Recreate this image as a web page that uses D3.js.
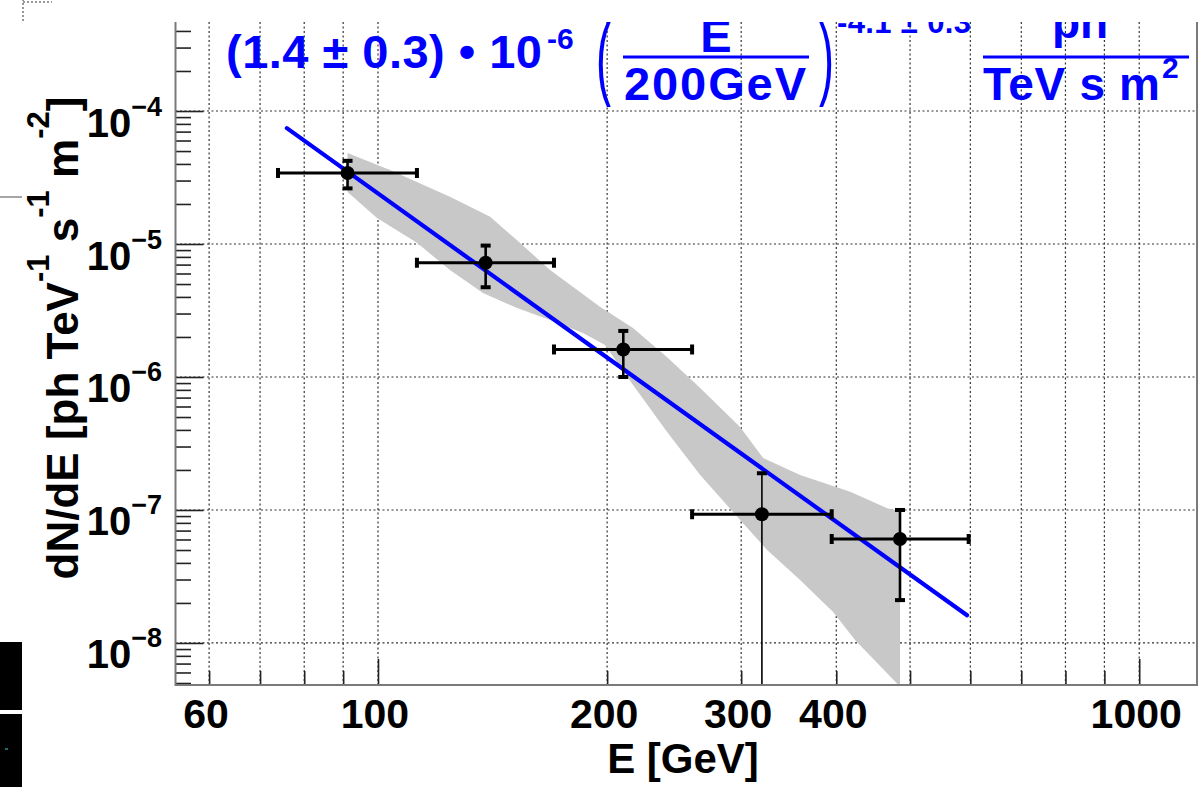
<!DOCTYPE html>
<html>
<head>
<meta charset="utf-8">
<script src="https://cdn.jsdelivr.net/npm/d3@7"></script>
<style>
  html, body { margin: 0; padding: 0; background: #fff; }
  svg { display: block; font-family: "Liberation Sans", Arial, Helvetica, sans-serif; }
</style>
</head>
<body>
<svg id="chart" width="1203" height="787"></svg>
<script>
// ---- measured spectrum (energy bins in GeV, flux in ph TeV^-1 s^-1 m^-2) ----
const energy     = [91.2, 138.5, 210.0, 319.4, 485.0];
const energyLow  = [73.9, 112.5, 170.3, 258.6, 394.5];
const energyHigh = [112.5, 170.3, 258.6, 394.5, 597.0];
const flux       = [3.42e-5, 7.23e-6, 1.61e-6, 9.29e-8, 6.05e-8];
const fluxErr    = [8.0e-6, 2.5e-6, 6.1e-7, 9.6e-8, 3.95e-8];

// ---- power-law fit: N0 * (E / pivot)^-index ----
const fitNorm  = 1.4e-6;
const fitIndex = 4.1;
const fitPivot = 200;
const fitEnergyRange = [75.9, 594.0];

// ---- fit uncertainty band: upper and lower envelopes ----
const bandUpperEnergy = [91.2, 103.7, 124.3, 140.4, 152.2, 168.3, 195.7, 216.3, 239.8, 265.0, 299.0, 320.6, 358.5, 417.2, 466.6, 485.0];
const bandUpperFlux   = [4.83e-5, 3.60e-5, 2.27e-5, 1.60e-5, 1.07e-5, 6.38e-6, 3.38e-6, 2.34e-6, 1.41e-6, 8.26e-7, 4.21e-7, 2.46e-7, 1.83e-7, 1.37e-7, 1.03e-7, 9.8e-8];
const bandLowerEnergy = [91.2, 99.7, 112.5, 124.3, 137.4, 152.3, 168.3, 185.9, 198.7, 216.3, 239.8, 265.0, 292.7, 324.5, 358.5, 396.2, 423.6, 485.0];
const bandLowerFlux   = [2.46e-5, 1.57e-5, 1.02e-5, 6.38e-6, 4.29e-6, 3.30e-6, 2.68e-6, 2.14e-6, 1.74e-6, 8.71e-7, 3.86e-7, 1.83e-7, 9.66e-8, 5.0e-8, 2.98e-8, 1.71e-8, 1.05e-8, 4.7e-9];

// ---- axis ticks ----
const xTickValues  = [60, 70, 80, 90, 100, 200, 300, 400, 500, 600, 700, 800, 900, 1000];
const xMajorTicks  = [100, 1000];
const xLabelValues = [60, 100, 200, 300, 400, 1000];
const yExponents   = [-8, -7, -6, -5, -4];

const svg = d3.select("#chart");
const W = 1203, H = 787;
const plot = { left: 175.5, right: 1197, top: 22, bottom: 685 };

const x = d3.scaleLog().domain([54.2, 1191]).range([plot.left, plot.right]);
const y = d3.scaleLog().domain([4.83e-9, 4.67e-4]).range([plot.bottom, plot.top]);

const yDecades = yExponents.map(e => Math.pow(10, e));
const yMinor = [];
for (let e = -9; e <= -4; e++) {
  for (let k = 2; k <= 9; k++) {
    const v = k * Math.pow(10, e);
    if (v >= y.domain()[0] && v <= y.domain()[1]) yMinor.push(v);
  }
}

const defs = svg.append("defs");
defs.append("clipPath").attr("id", "plotClip")
  .append("rect").attr("x", plot.left).attr("y", plot.top)
  .attr("width", plot.right - plot.left).attr("height", plot.bottom - plot.top);
defs.append("clipPath").attr("id", "pageClip")
  .append("rect").attr("x", 0).attr("y", plot.top).attr("width", W).attr("height", H - plot.top);

const page = svg.append("g").attr("clip-path", "url(#pageClip)");

// ---- dotted grid ----
const grid = page.append("g").attr("fill", "none")
  .attr("stroke", "#000").attr("stroke-width", 1.2)
  .attr("stroke-dasharray", "2,2.5").attr("opacity", 0.8);
grid.selectAll("line.vx").data(xTickValues).join("line")
  .attr("x1", d => x(d)).attr("x2", d => x(d))
  .attr("y1", plot.top).attr("y2", plot.bottom);
grid.selectAll("line.hy").data(yDecades).join("line")
  .attr("x1", plot.left).attr("x2", plot.right)
  .attr("y1", d => y(d)).attr("y2", d => y(d));

// ---- plot contents ----
const inner = page.append("g").attr("clip-path", "url(#plotClip)");

const bandPoints = bandUpperEnergy.map((e, i) => [e, bandUpperFlux[i]])
  .concat(bandLowerEnergy.map((e, i) => [e, bandLowerFlux[i]]).reverse());
inner.append("path")
  .attr("d", d3.line().x(d => x(d[0])).y(d => y(d[1]))(bandPoints) + "Z")
  .attr("fill", "#c8c8c8").attr("stroke", "none");

const fitFlux = e => fitNorm * Math.pow(e / fitPivot, -fitIndex);
inner.append("path")
  .attr("d", d3.line().x(d => x(d)).y(d => y(fitFlux(d)))(fitEnergyRange))
  .attr("stroke", "#0000ff").attr("stroke-width", 4.2).attr("fill", "none")
  .attr("stroke-linecap", "round");

// ---- data points with error bars ----
const pts = inner.append("g").attr("stroke", "#000").attr("fill", "#000");
energy.forEach((e, i) => {
  const cx = x(e), cy = y(flux[i]);
  const xl = x(energyLow[i]), xh = x(energyHigh[i]);
  const lo = flux[i] - fluxErr[i];
  const yTop = y(flux[i] + fluxErr[i]);
  const yBot = lo > 0 ? Math.min(y(lo), plot.bottom) : plot.bottom;
  pts.append("line").attr("x1", xl).attr("x2", xh).attr("y1", cy).attr("y2", cy).attr("stroke-width", 3);
  pts.append("line").attr("x1", cx).attr("x2", cx).attr("y1", yTop).attr("y2", yBot)
    .attr("stroke-width", lo > 0 ? 2.6 : 1.6);
  pts.append("rect").attr("x", xl - 2).attr("y", cy - 5).attr("width", 4).attr("height", 10).attr("stroke", "none");
  pts.append("rect").attr("x", xh - 2).attr("y", cy - 5).attr("width", 4).attr("height", 10).attr("stroke", "none");
  pts.append("rect").attr("x", cx - 5).attr("y", yTop - 2).attr("width", 10).attr("height", 4).attr("stroke", "none");
  if (lo > 0 && y(lo) < plot.bottom)
    pts.append("rect").attr("x", cx - 5).attr("y", yBot - 2).attr("width", 10).attr("height", 4).attr("stroke", "none");
  pts.append("circle").attr("cx", cx).attr("cy", cy).attr("r", 7).attr("stroke", "none");
});

// ---- axes (ticks drawn inward) ----
const yAxisMinor = d3.axisLeft(y).tickValues(yMinor).tickSize(-15.5).tickFormat("");
const yAxisMajor = d3.axisLeft(y).tickValues(yDecades).tickSize(-28).tickFormat("");
const xAxisMinor = d3.axisBottom(x).tickValues(xTickValues.filter(v => !xMajorTicks.includes(v))).tickSize(-14).tickFormat("");
const xAxisMajor = d3.axisBottom(x).tickValues(xMajorTicks).tickSize(-26).tickFormat("");

[yAxisMinor, yAxisMajor].forEach(ax => {
  const g = page.append("g").attr("transform", `translate(${plot.left},0)`).call(ax);
  g.select(".domain").remove();
  g.selectAll(".tick line").attr("stroke", "#222").attr("stroke-width", 1.6);
});
[xAxisMinor, xAxisMajor].forEach(ax => {
  const g = page.append("g").attr("transform", `translate(0,${plot.bottom})`).call(ax);
  g.select(".domain").remove();
  g.selectAll(".tick line").attr("stroke", "#222").attr("stroke-width", 1.6);
});

// frame
page.append("path")
  .attr("d", `M${plot.left},${plot.top}V${plot.bottom}H${plot.right}V${plot.top}`)
  .attr("fill", "none").attr("stroke", "#7a7a7a").attr("stroke-width", 2);

// ---- tick labels ----
page.append("g").selectAll("text").data(xLabelValues).join("text")
  .attr("x", d => x(d) - 3).attr("y", 728)
  .attr("text-anchor", "middle").attr("font-size", 41).attr("font-weight", "bold")
  .attr("fill", "#000").text(d => d);

const yl = page.append("g").selectAll("text").data(yExponents).join("text")
  .attr("x", 162).attr("y", d => y(Math.pow(10, d)) + 25.5)
  .attr("text-anchor", "end").attr("font-weight", "bold").attr("fill", "#000");
yl.append("tspan").attr("font-size", 40).text("10");
yl.append("tspan").attr("font-size", 27).attr("dy", -21).text(d => "\u2212" + Math.abs(d));

// ---- axis titles ----
page.append("text").attr("x", 683).attr("y", 773)
  .attr("text-anchor", "middle").attr("font-size", 42).attr("font-weight", "bold")
  .text("E [GeV]");

const yt = page.append("text")
  .attr("transform", "translate(78,338) rotate(-90)")
  .attr("text-anchor", "middle").attr("font-size", 44).attr("font-weight", "bold");
yt.append("tspan").text("dN/dE [ph TeV");
yt.append("tspan").attr("font-size", 31).attr("dy", -29).text("-1");
yt.append("tspan").attr("dy", 29).text(" s");
yt.append("tspan").attr("font-size", 31).attr("dy", -29).text("-1");
yt.append("tspan").attr("dy", 29).text(" m");
yt.append("tspan").attr("font-size", 31).attr("dy", -29).text("-2");
yt.append("tspan").attr("dy", 29).text("]");

// ---- fit formula ----
const f = page.append("g").attr("fill", "#0000ff").attr("font-weight", "bold");
f.append("text").attr("x", 226).attr("y", 68).attr("font-size", 47)
  .attr("textLength", 316).attr("lengthAdjust", "spacing")
  .text("(1.4 \u00b1 0.3) \u2022 10");
f.append("text").attr("x", 547).attr("y", 49).attr("font-size", 30).text("-6");

f.append("text").attr("transform", "translate(596,88) scale(0.5,1)")
  .attr("font-size", 90).attr("font-weight", "normal").text("(");
f.append("text").attr("transform", "translate(819,88) scale(0.5,1)")
  .attr("font-size", 90).attr("font-weight", "normal").text(")");

f.append("text").attr("x", 716).attr("y", 52).attr("text-anchor", "middle").attr("font-size", 47).text("E");
f.append("line").attr("x1", 623).attr("x2", 809).attr("y1", 57).attr("y2", 57)
  .attr("stroke", "#0000ff").attr("stroke-width", 3);
f.append("text").attr("x", 624).attr("y", 100).attr("font-size", 47)
  .attr("textLength", 182).attr("lengthAdjust", "spacing").text("200GeV");

f.append("text").attr("x", 837).attr("y", 33).attr("font-size", 31)
  .attr("textLength", 134).attr("lengthAdjust", "spacing").text("-4.1 \u00b1 0.3");

f.append("text").attr("x", 1080).attr("y", 38).attr("text-anchor", "middle").attr("font-size", 46).text("ph");
f.append("line").attr("x1", 983).attr("x2", 1189).attr("y1", 57).attr("y2", 57)
  .attr("stroke", "#0000ff").attr("stroke-width", 3);
f.append("text").attr("x", 983).attr("y", 100).attr("font-size", 46)
  .attr("textLength", 177).attr("lengthAdjust", "spacing").text("TeV s m");
f.append("text").attr("x", 1162).attr("y", 78).attr("font-size", 30).text("2");

// ---- margin marks ----
svg.append("path").attr("d", "M23,21V0M23,2H52")
  .attr("stroke", "#333").attr("stroke-width", 1).attr("stroke-dasharray", "2,2").attr("fill", "none");
svg.append("line").attr("x1", 0).attr("x2", 22).attr("y1", 197).attr("y2", 197)
  .attr("stroke", "#888").attr("stroke-width", 1.5);
svg.append("rect").attr("x", 0).attr("y", 642).attr("width", 22).attr("height", 68).attr("fill", "#000");
svg.append("rect").attr("x", 0).attr("y", 714).attr("width", 22).attr("height", 73).attr("fill", "#000");
svg.append("rect").attr("x", 5).attr("y", 748).attr("width", 3).attr("height", 2).attr("fill", "#1a6b6b");
</script>
</body>
</html>
